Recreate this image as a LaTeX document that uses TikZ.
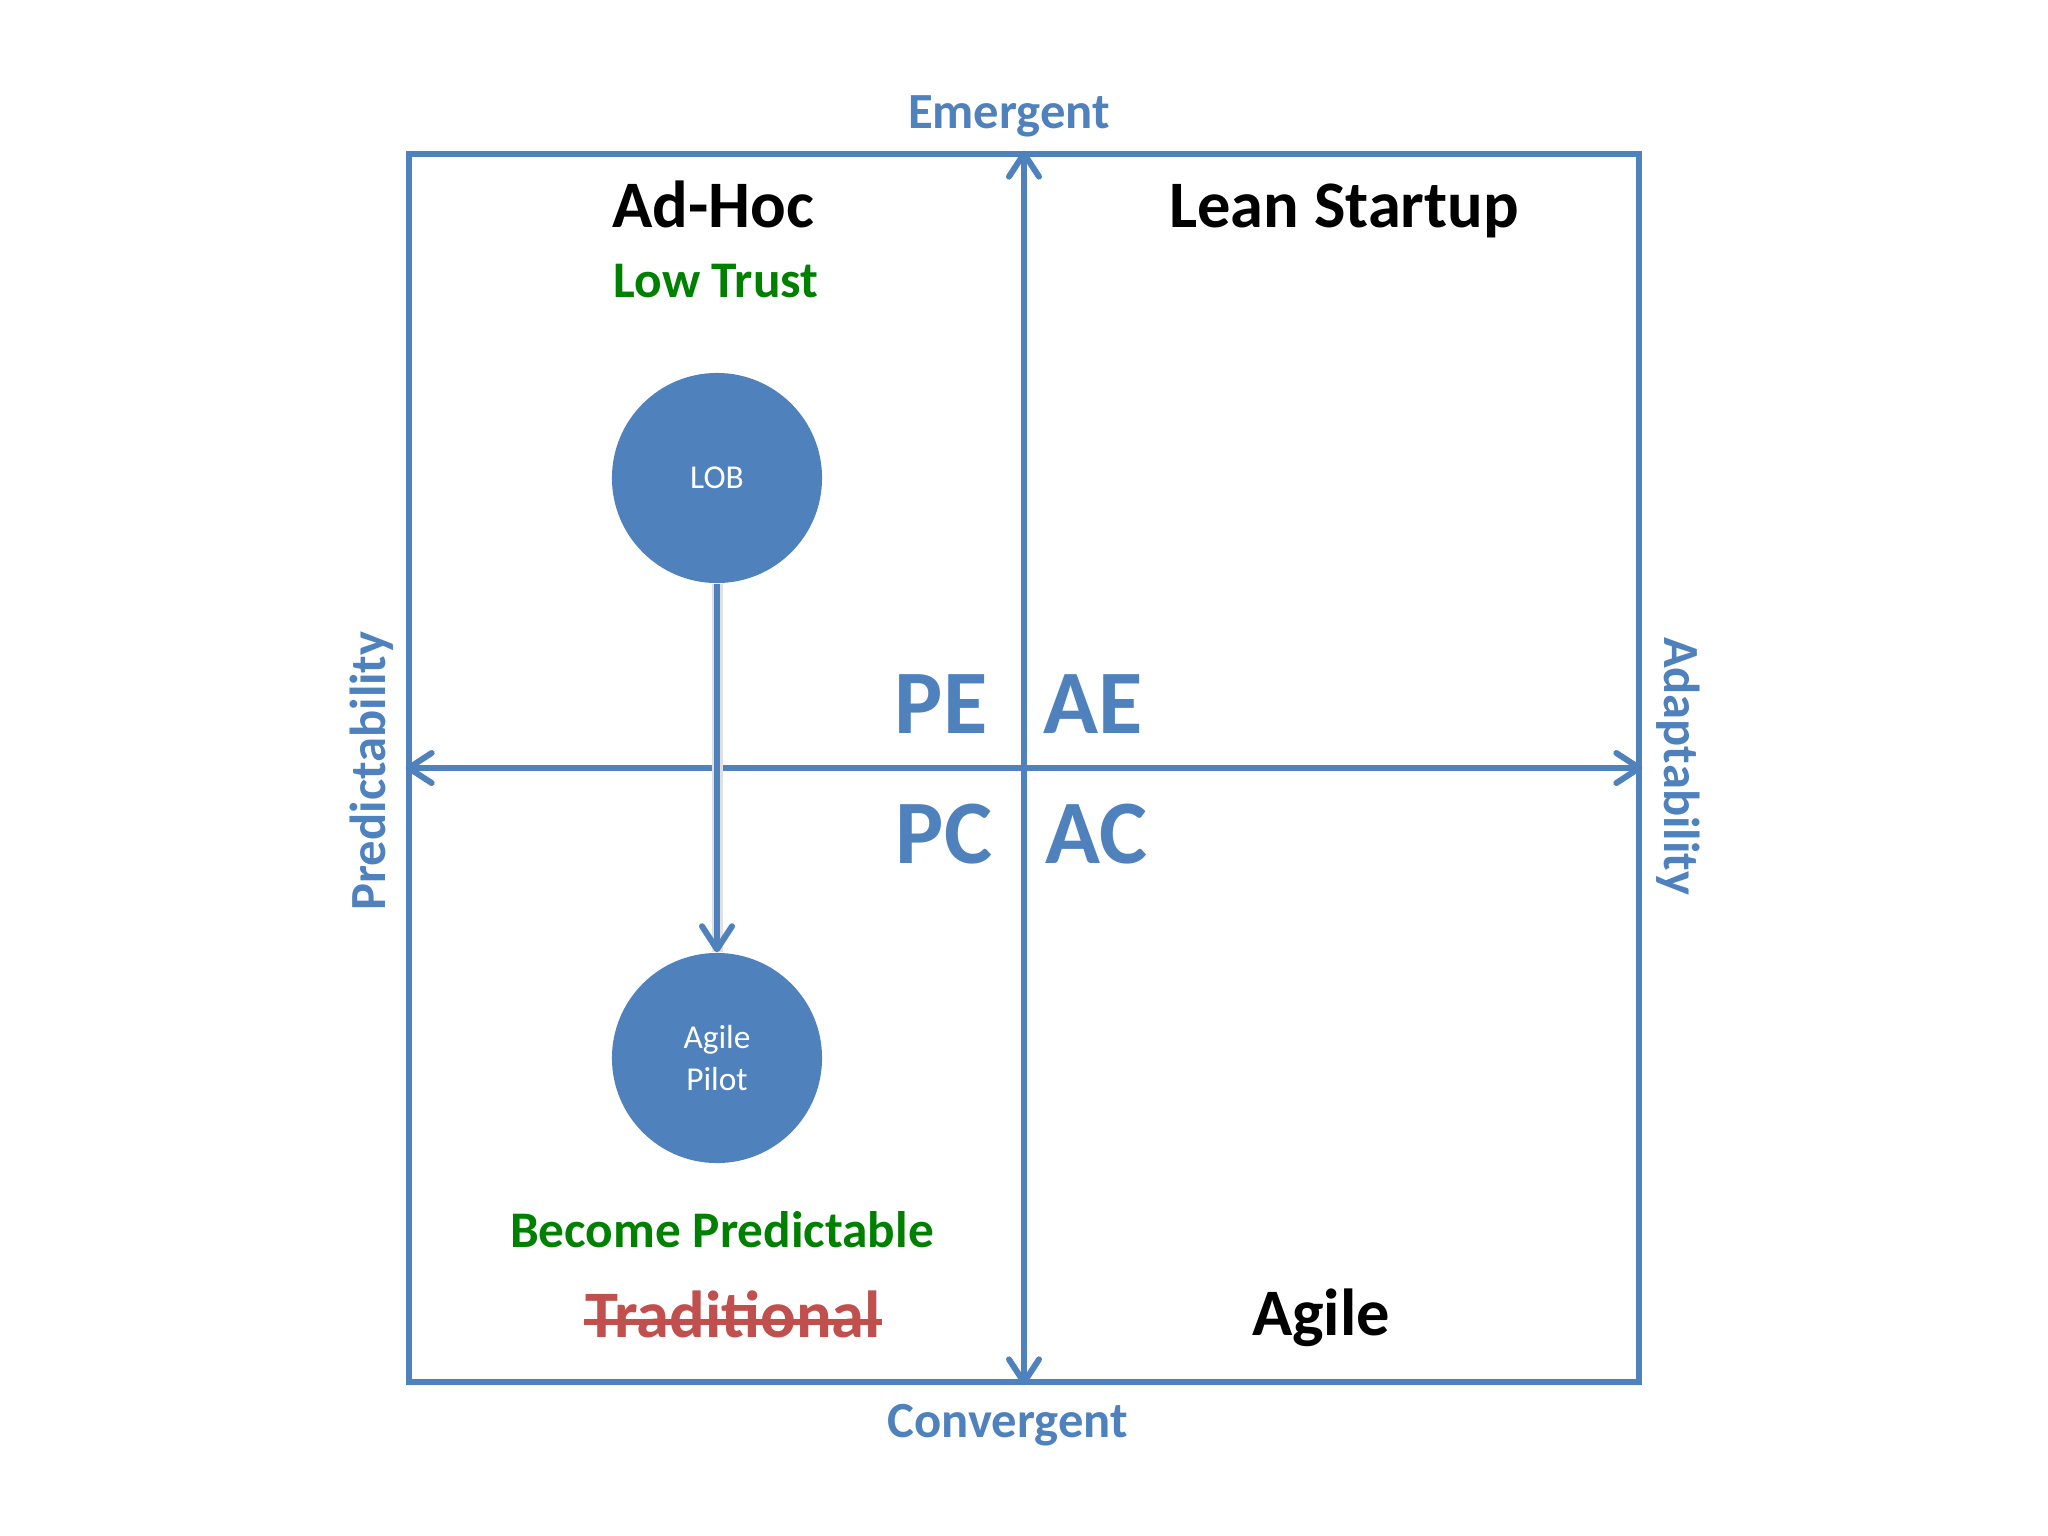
\documentclass[tikz,border=0pt]{standalone}
\usepackage{fontspec}
\setmainfont{Carlito}
\usetikzlibrary{arrows.meta}
\definecolor{qblue}{RGB}{79,129,189}
\definecolor{qgreen}{RGB}{0,128,0}
\definecolor{qred}{RGB}{192,80,77}
\tikzset{>={Straight Barb[length=0.23cm,width=0.3cm,round]}}
\tikzset{frame/.style={draw=qblue, line width=0.06cm, minimum width=12.3cm, minimum height=12.28cm, inner sep=0pt}}
\tikzset{ax/.style={qblue, line width=0.06cm}}
\tikzset{blob/.style={circle, fill=qblue, minimum size=2.1cm, inner sep=0pt, text=white, align=center, font=\fontsize{9.5}{11.7}\selectfont}}
\tikzset{axlab/.style={qblue, inner sep=0pt, font=\bfseries\fontsize{14.4}{16}\selectfont}}
\tikzset{quad/.style={inner sep=0pt, font=\bfseries\fontsize{18.9}{22}\selectfont}}
\tikzset{note/.style={qgreen, inner sep=0pt, font=\bfseries\fontsize{14.6}{17}\selectfont}}
\tikzset{code/.style={qblue, inner sep=0pt, font=\bfseries\fontsize{25.8}{30}\selectfont}}

\begin{document}
\begin{tikzpicture}[x=0.01cm, y=-0.01cm]
\useasboundingbox (0,0) rectangle (2048,1536);

% quadrant frame and axes
\node[frame] (box) at (1024,768) {};
\draw[ax, <->] (box.south) -- (box.north);
\draw[ax, <->] (box.west) -- (box.east);

\node[axlab, anchor=base] (em) at (1009,128) {Emergent};
\node[axlab, anchor=base] (conv) at (1008,1437) {Convergent};
\node[axlab, rotate=90] (pred) at (372,771) {Predictability};
\node[axlab, rotate=-90] (adapt) at (1678,766) {Adaptability};

% quadrant names
\node[quad, anchor=base] (adhoc) at (713,227) {Ad-Hoc};
\node[quad, anchor=base] (lean) at (1344,227) {Lean Startup};
\node[quad, anchor=base] (agile) at (1321,1335) {Agile};
\node[quad, anchor=base, qred] (trad) at (733,1337) {Traditional};
\draw[qred, line width=0.055cm] ([yshift=0.15cm]trad.base west) -- ([yshift=0.15cm]trad.base east);

\node[note, anchor=base] (trust) at (716,297) {Low Trust};
\node[note, anchor=base] (become) at (722,1247) {Become Predictable};

\node[code, anchor=base] (pe) at (941,733) {PE};
\node[code, anchor=base] (ae) at (1093,733) {AE};
\node[code, anchor=base] (pc) at (944,863) {PC};
\node[code, anchor=base] (ac) at (1096,863) {AC};

% move from LOB to pilot
\node[blob] (lob) at (717,478) {LOB};
\node[blob] (pilot) at (717,1058) {Agile\\Pilot};
\draw[black!12, line width=0.11cm] (lob) -- (pilot);
\draw[ax, ->] (lob) -- (pilot);
\end{tikzpicture}
\end{document}
